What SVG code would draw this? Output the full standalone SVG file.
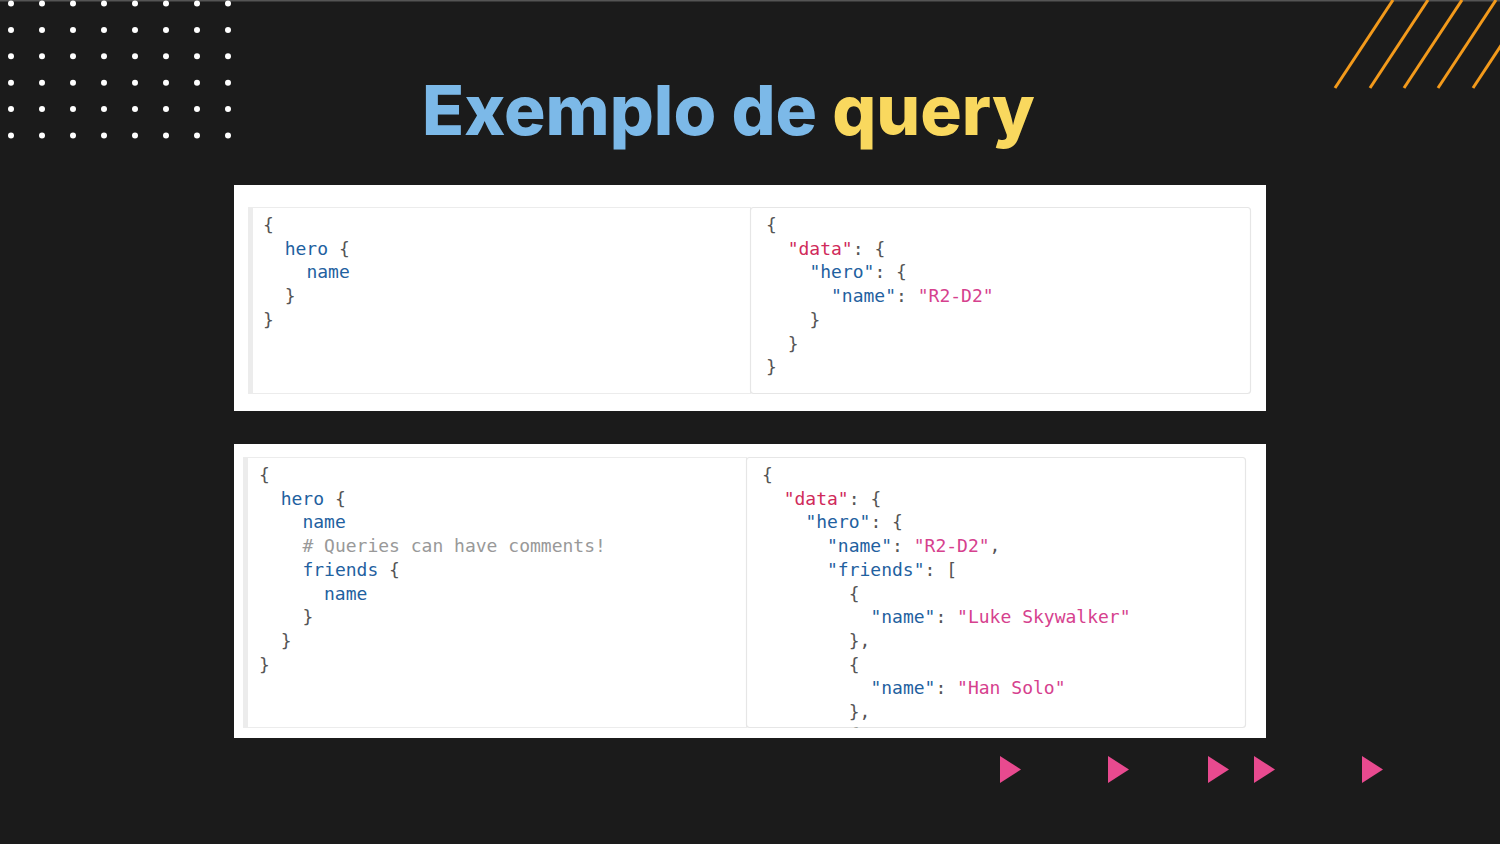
<svg xmlns="http://www.w3.org/2000/svg" width="1500" height="844" viewBox="0 0 1500 844">
<defs>
<style>
.code{font-family:"DejaVu Sans Mono","Liberation Mono",monospace;font-size:18px;fill:#555}
.k{fill:#1f61a0}
.r{fill:#d02a5a}
.s{fill:#d6418e}
.c{fill:#999}
.dot{fill:#fff}
.stripe{stroke:#f39a1b;stroke-width:3}
.tri{fill:#e84a8f}
.panel{fill:#fff}
.lbox{fill:#fff;stroke:#ececec;stroke-width:1}
.band{fill:#ececec}
.rbox{fill:#fff;stroke:#e6e6e6;stroke-width:1.2}
</style>
<clipPath id="clip2"><rect x="747" y="458" width="498" height="269.5"/></clipPath>
</defs>
<rect width="1500" height="844" fill="#1b1b1b"/>
<rect width="1500" height="1.5" fill="#555"/>

<g id="dots">
<g id="dotrow">
<circle class="dot" cx="11" cy="3.5" r="3"/><circle class="dot" cx="42" cy="3.5" r="3"/><circle class="dot" cx="73" cy="3.5" r="3"/><circle class="dot" cx="104" cy="3.5" r="3"/><circle class="dot" cx="135" cy="3.5" r="3"/><circle class="dot" cx="166" cy="3.5" r="3"/><circle class="dot" cx="197" cy="3.5" r="3"/><circle class="dot" cx="228" cy="3.5" r="3"/>
</g>
<use href="#dotrow" y="26.4"/>
<use href="#dotrow" y="52.8"/>
<use href="#dotrow" y="79.2"/>
<use href="#dotrow" y="105.6"/>
<use href="#dotrow" y="132"/>
</g>

<g id="stripes">
<line class="stripe" x1="1335" y1="88" x2="1393" y2="0"/>
<line class="stripe" x1="1370" y1="88" x2="1428" y2="0"/>
<line class="stripe" x1="1404" y1="88" x2="1462" y2="0"/>
<line class="stripe" x1="1438" y1="88" x2="1496" y2="0"/>
<line class="stripe" x1="1473" y1="88" x2="1531" y2="0"/>
</g>

<g id="title">
<text x="422" y="135" font-family="Inter, 'Open Sans', sans-serif" font-weight="800" font-size="69.2" fill="#7cb9e8">Exemplo de <tspan fill="#f9d85e">query</tspan></text>
</g>

<g id="panel1">
<rect class="panel" x="234" y="185" width="1032" height="226"/>
<rect class="lbox" x="248.5" y="207.5" width="502" height="186"/>
<rect class="band" x="248" y="207" width="5" height="187"/>
<rect class="rbox" x="750.5" y="207.5" width="500" height="186" rx="3"/>
<g class="code">
<text x="263" y="231">{</text>
<text x="284.7" y="254.7"><tspan class="k">hero</tspan> {</text>
<text x="306.4" y="278.4" class="k">name</text>
<text x="284.7" y="302.1">}</text>
<text x="263" y="325.8">}</text>

<text x="766" y="231">{</text>
<text x="787.7" y="254.7"><tspan class="r">"data"</tspan>: {</text>
<text x="809.4" y="278.4"><tspan class="k">"hero"</tspan>: {</text>
<text x="831" y="302.1"><tspan class="k">"name"</tspan>: <tspan class="s">"R2-D2"</tspan></text>
<text x="809.4" y="325.8">}</text>
<text x="787.7" y="349.5">}</text>
<text x="766" y="373.2">}</text>
</g>
</g>

<g id="panel2">
<rect class="panel" x="234" y="444" width="1032" height="294"/>
<rect class="lbox" x="243.5" y="457.5" width="503" height="270"/>
<rect class="band" x="243" y="457" width="5" height="271"/>
<rect class="rbox" x="746.5" y="457.5" width="499" height="270" rx="3"/>
<g class="code">
<text x="259" y="481">{</text>
<text x="280.7" y="504.7"><tspan class="k">hero</tspan> {</text>
<text x="302.4" y="528.4" class="k">name</text>
<text x="302.4" y="552.1" class="c"># Queries can have comments!</text>
<text x="302.4" y="575.8"><tspan class="k">friends</tspan> {</text>
<text x="324" y="599.5" class="k">name</text>
<text x="302.4" y="623.2">}</text>
<text x="280.7" y="646.9">}</text>
<text x="259" y="670.6">}</text>
</g>
<g class="code" clip-path="url(#clip2)">
<text x="762" y="481">{</text>
<text x="783.7" y="504.7"><tspan class="r">"data"</tspan>: {</text>
<text x="805.4" y="528.4"><tspan class="k">"hero"</tspan>: {</text>
<text x="827" y="552.1"><tspan class="k">"name"</tspan>: <tspan class="s">"R2-D2"</tspan>,</text>
<text x="827" y="575.8"><tspan class="k">"friends"</tspan>: [</text>
<text x="848.7" y="599.5">{</text>
<text x="870.4" y="623.2"><tspan class="k">"name"</tspan>: <tspan class="s">"Luke Skywalker"</tspan></text>
<text x="848.7" y="646.9">},</text>
<text x="848.7" y="670.6">{</text>
<text x="870.4" y="694.3"><tspan class="k">"name"</tspan>: <tspan class="s">"Han Solo"</tspan></text>
<text x="848.7" y="718">},</text>
<text x="848.7" y="740.5">{</text>
</g>
</g>

<g id="arrows">
<polygon class="tri" points="1000,756 1021,769.5 1000,783"/>
<polygon class="tri" points="1108,756 1129,769.5 1108,783"/>
<polygon class="tri" points="1208,756 1229,769.5 1208,783"/>
<polygon class="tri" points="1254,756 1275,769.5 1254,783"/>
<polygon class="tri" points="1362,756 1383,769.5 1362,783"/>
</g>
</svg>
